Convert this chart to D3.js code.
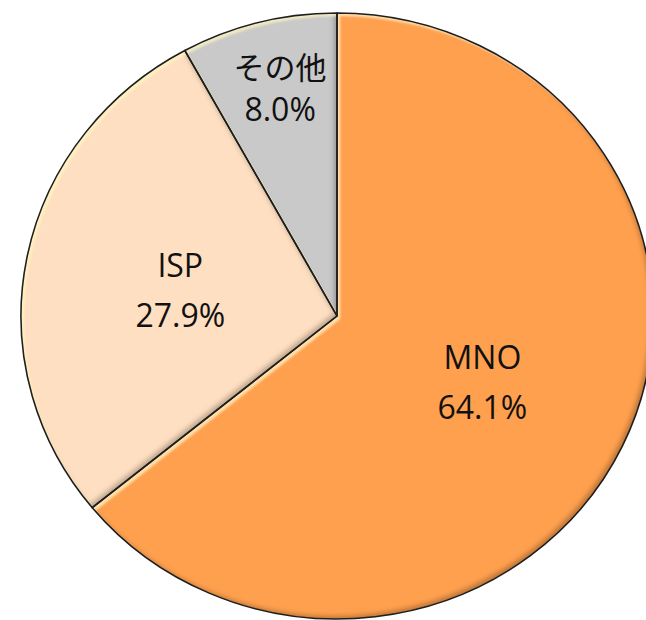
<!DOCTYPE html>
<html>
<head>
<meta charset="utf-8">
<script src="https://cdn.jsdelivr.net/npm/d3@7"></script>
<style>
  html, body { margin: 0; padding: 0; background: #fff; }
  svg { display: block; }
</style>
</head>
<body>
<script>
const w = 646;
const h = 620;

// slice data, clockwise from 12 o'clock
const labels = ["MNO", "ISP", "その他"];
const shares = [64.1, 27.9, 8.0];
const colors = ["#FFA04F", "#FEDFC1", "#C9C9C9"];

// layout of the ellipse the picture shows
const cx = 337;
const cy = 316;
const ry = 303;
const rx = 316;
// label placement: radius (px, unscaled) and angle nudge (degrees)
const labelR = [160, 151, 224];
const labelTurn = [4, -5.5, 0.3];

const data = labels.map((l, i) => ({ label: l, value: shares[i], color: colors[i] }));

const svg = d3.select("body").append("svg").attr("width", w).attr("height", h);

// bevel-like inner light and shadow
const defs = svg.append("defs");
const f = defs.append("filter").attr("id", "bevel")
  .attr("x", "-10%").attr("y", "-10%").attr("width", "120%").attr("height", "120%");
function inner(dx, dy, blur, color, opacity, name) {
  f.append("feOffset").attr("in", "SourceAlpha").attr("dx", dx).attr("dy", dy).attr("result", name + "o");
  f.append("feGaussianBlur").attr("in", name + "o").attr("stdDeviation", blur).attr("result", name + "b");
  f.append("feComposite").attr("in", name + "b").attr("in2", "SourceAlpha")
    .attr("operator", "arithmetic").attr("k2", -1).attr("k3", 1).attr("result", name + "d");
  f.append("feFlood").attr("flood-color", color).attr("flood-opacity", opacity).attr("result", name + "f");
  f.append("feComposite").attr("in", name + "f").attr("in2", name + "d").attr("operator", "in").attr("result", name);
}
inner(-3, -3, 2.5, "#000", 0.5, "shade");
inner(3, 3, 1.2, "#FFF6C0", 0.7, "light");
const m = f.append("feMerge");
m.append("feMergeNode").attr("in", "SourceGraphic");
m.append("feMergeNode").attr("in", "shade");
m.append("feMergeNode").attr("in", "light");

const pie = d3.pie().sort(null).value((d) => d.value);
const arc = d3.arc().innerRadius(0).outerRadius(ry);
const arcs = pie(data);

const g = svg.append("g")
  .attr("transform", `translate(${cx}, ${cy}) scale(${rx / ry}, 1)`);

g.selectAll("path.slice")
  .data(arcs)
  .enter()
  .append("path")
  .attr("class", "slice")
  .attr("d", arc)
  .attr("fill", (d) => d.data.color)
  .attr("filter", "url(#bevel)");

g.selectAll("path.edge")
  .data(arcs)
  .enter()
  .append("path")
  .attr("class", "edge")
  .attr("d", arc)
  .attr("fill", "none")
  .attr("stroke", "#1e1e1e")
  .attr("stroke-width", 1.5)
  .attr("stroke-linejoin", "round");

// labels, kept outside the scaled group so the glyphs are not stretched
const lab = svg.append("g").attr("transform", `translate(${cx}, ${cy})`);
arcs.forEach((d, i) => {
  const a = (d.startAngle + d.endAngle) / 2 + labelTurn[i] * Math.PI / 180;
  const x = Math.sin(a) * labelR[i] * rx / ry;
  const y = -Math.cos(a) * labelR[i];
  const cjk = /[^\x00-\x7f]/.test(d.data.label);
  const t = lab.append("text")
    .attr("text-anchor", "middle")
    .attr("font-family", "'Open Sans', 'Noto Sans CJK JP', sans-serif")
    .attr("font-size", 32)
    .attr("fill", "#111");
  t.append("tspan").attr("x", x).attr("y", y - (cjk ? 20 : 25))
    .attr("font-family", cjk ? "'Noto Sans CJK JP', sans-serif" : null)
    .attr("font-size", cjk ? 31 : null)
    .text(d.data.label);
  t.append("tspan").attr("x", x).attr("y", y + (cjk ? 22 : 25))
    .text(d.data.value.toFixed(1) + "%");
});
</script>
</body>
</html>
